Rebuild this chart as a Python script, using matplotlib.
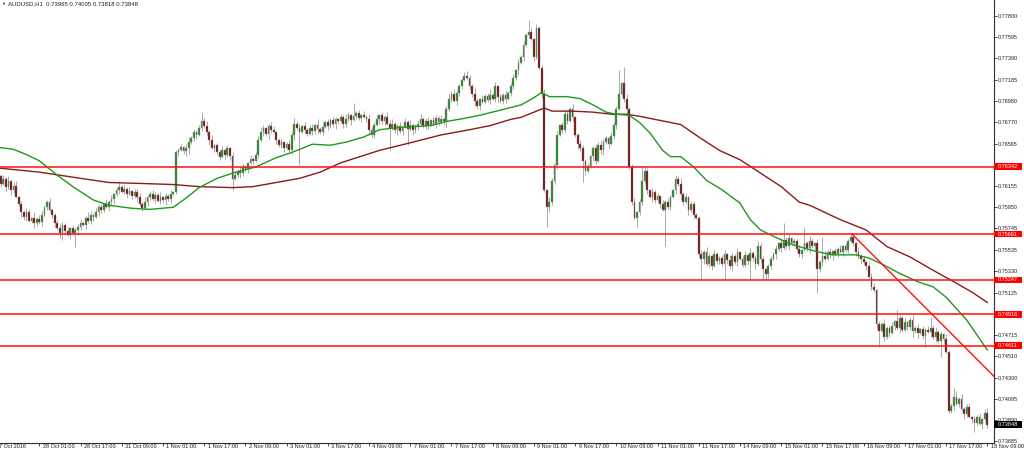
import numpy as np
import matplotlib
matplotlib.use("Agg")
import matplotlib.pyplot as plt
from matplotlib import transforms
from matplotlib.patches import Rectangle

plt.rcParams['font.family'] = ['Liberation Sans', 'DejaVu Sans']

# AUDUSD H1, 27 Oct 2016 09:00 .. 18 Nov 2016 09:00
header = "AUDUSD,H1  0.73965 0.74005 0.73818 0.73848"

# hourly closes in pips (price * 10000), one row = 10 bars
first_open_pips = 7628
close_pips = [
    7625, 7618, 7622, 7615, 7620, 7612, 7616, 7605, 7598, 7590,   # 0
    7586, 7590, 7582, 7585, 7580, 7584, 7581, 7588, 7595, 7600,
    7592, 7588, 7580, 7575, 7570, 7578, 7572, 7568, 7575, 7570,
    7573, 7576, 7580, 7578, 7585, 7582, 7588, 7586, 7590, 7595,
    7592, 7598, 7595, 7600, 7603, 7608, 7612, 7615, 7610, 7613,
    7608, 7611, 7606, 7610, 7605, 7598, 7594, 7600, 7605, 7608,   # 50
    7603, 7607, 7601, 7605, 7602, 7606, 7603, 7608, 7610, 7648,
    7650, 7653, 7649, 7652, 7658, 7662, 7668, 7665, 7672, 7678,
    7674, 7668, 7660, 7652, 7655, 7648, 7644, 7650, 7646, 7652,
    7645, 7622, 7626, 7630, 7628, 7634, 7632, 7638, 7642, 7640,
    7646, 7660, 7668, 7672, 7666, 7674, 7670, 7668, 7660, 7655,   # 100
    7658, 7652, 7656, 7650, 7665, 7676, 7672, 7668, 7674, 7670,
    7666, 7672, 7669, 7675, 7671, 7668, 7673, 7677, 7674, 7679,
    7676, 7680, 7678, 7682, 7676, 7680, 7684, 7679, 7683, 7686,
    7681, 7684, 7682, 7680, 7670, 7665, 7675, 7680, 7684, 7678,
    7682, 7676, 7672, 7676, 7670, 7674, 7669, 7673, 7677, 7671,   # 150
    7675, 7670, 7674, 7676, 7680, 7674, 7678, 7675, 7679, 7676,
    7681, 7677, 7680, 7678, 7690, 7700, 7705, 7698, 7706, 7712,
    7718, 7722, 7720, 7712, 7705, 7698, 7693, 7700, 7697, 7703,
    7699, 7704, 7700, 7712, 7702, 7698, 7704, 7700, 7706, 7712,
    7720, 7728, 7735, 7740, 7752, 7762, 7765, 7758, 7740, 7768,   # 200
    7730, 7705, 7612, 7595, 7600, 7620, 7636, 7665, 7675, 7670,
    7685, 7678, 7690, 7682, 7665, 7656, 7652, 7640, 7630, 7635,
    7645, 7652, 7640, 7655, 7650, 7658, 7662, 7656, 7664, 7675,
    7690, 7705, 7715, 7700, 7690, 7634, 7600, 7585, 7590, 7600,
    7620, 7630, 7612, 7605, 7610, 7602, 7606, 7598, 7592, 7600,   # 250
    7595, 7605, 7612, 7622, 7618, 7608, 7600, 7605, 7592, 7598,
    7588, 7585, 7550, 7545, 7552, 7540, 7548, 7538, 7550, 7543,
    7546, 7540, 7550, 7544, 7538, 7548, 7542, 7552, 7545, 7539,
    7549, 7543, 7551, 7546, 7540, 7558, 7545, 7535, 7530, 7538,
    7545, 7550, 7555, 7560, 7556, 7563, 7558, 7565, 7560, 7562,   # 300
    7555, 7550, 7554, 7560, 7556, 7562, 7558, 7560, 7535, 7542,
    7548, 7545, 7552, 7549, 7553, 7550, 7555, 7552, 7558, 7554,
    7562, 7566, 7560, 7552, 7548, 7545, 7542, 7538, 7528, 7518,
    7515, 7482, 7475, 7482, 7470, 7478, 7473, 7480, 7485, 7478,
    7488, 7476, 7484, 7479, 7486, 7475, 7478, 7473, 7477, 7471,   # 350
    7476, 7474, 7478, 7470, 7474, 7466, 7472, 7468, 7455, 7398,
    7403, 7412, 7405, 7410, 7400, 7395, 7402, 7392, 7390, 7386,
    7392, 7385, 7390, 7396.5, 7384.8,
]

# usual wick lengths in pips (one digit per bar)
wick_up = ("3242513423" "2431524312" "4213532413" "2341253142" "3152413524"
           "2413342513" "4325132412" "2314523134" "3425123413" "1342532142"
           "2453123412" "3124352413" "2341524132" "4213253142" "3142532413"
           "2534123142" "4123523413" "3241352412" "2413253142" "3524132413"
           "4132425314" "2341532412" "3425124313" "1243532142" "3412523413"
           "2531423142" "4213352413" "3124253142" "2341532413" "4152342312"
           "3241523413" "2413253142" "3524132412" "2341523143" "4132523412"
           "3241352413" "2413523142" "3152423413" "24135")
wick_dn = ("2314253124" "3412532413" "1342523142" "2531423413" "3214352412"
           "4132523143" "2413352412" "3124523413" "2351423142" "4213532413"
           "1324253142" "3412352413" "2143523142" "3521432413" "2413523142"
           "3142352413" "2534123412" "4213523143" "3124352412" "2413523413"
           "3251423142" "1423532413" "3214253142" "2531342413" "4123523142"
           "3241532413" "2314253142" "4132523413" "3214352412" "2413523143"
           "3152423412" "2341352413" "4213523142" "3124352413" "2531423142"
           "4213352413" "3142523412" "2413253143" "31425")

# long wicks (pips)
spike_high = {79: 7687, 138: 7696, 182: 7727, 206: 7776, 241: 7728, 243: 7731,
              250: 7634, 251: 7634, 305: 7580, 313: 7576, 320: 7566, 331: 7570,
              349: 7496, 362: 7489, 371: 7420, 384: 7400.5}
spike_low = {25: 7563, 30: 7557, 91: 7612, 117: 7636, 152: 7650, 159: 7655,
             213: 7576, 227: 7619, 248: 7576, 259: 7558, 273: 7525, 282: 7525,
             292: 7525, 297: 7525, 318: 7512, 342: 7460, 360: 7460, 366: 7450,
             379: 7378, 384: 7381.8}

# moving averages (bar index, pips)
fast_idx = [0, 6, 11, 16, 23, 29, 37, 43, 52, 59, 68, 73, 78, 85, 91, 100, 108, 114,
            122, 129, 135, 142, 148, 155, 168, 174, 181, 187, 195, 203, 208, 211, 214,
            221, 226, 231, 236, 240, 245, 249, 253, 258, 261, 265, 270, 275, 281, 288,
            292, 296, 301, 307, 315, 318, 324, 333, 338, 344, 350, 357, 363, 368, 376, 384]
fast_pips = [7653, 7651, 7646, 7640, 7626, 7615, 7602, 7597, 7594, 7593, 7595, 7604, 7614,
             7623, 7628, 7634, 7643, 7648, 7656, 7655, 7658, 7663, 7670, 7672, 7674, 7678,
             7681, 7684, 7689, 7694, 7701, 7706, 7702, 7702, 7700, 7694, 7687, 7685, 7684,
             7677, 7667, 7650, 7644, 7644, 7634, 7621, 7612, 7599, 7583, 7573, 7567, 7560,
             7554, 7552, 7549, 7549, 7546, 7539, 7531, 7523, 7518, 7508, 7486, 7457]
slow_idx = [0, 8, 16, 24, 32, 43, 56, 68, 78, 91, 99, 108, 117, 125, 133, 148, 161, 172,
            183, 191, 199, 203, 208, 212, 215, 223, 231, 238, 244, 249, 253, 265, 272, 280,
            288, 296, 304, 311, 315, 327, 337, 345, 354, 363, 371, 378, 384]
slow_pips = [7633, 7631, 7629, 7626, 7623, 7619, 7618, 7617, 7615, 7614, 7615, 7619, 7623,
             7629, 7638, 7650, 7658, 7665, 7670, 7674, 7680, 7682, 7687, 7691, 7688, 7688,
             7687, 7685, 7685, 7683, 7681, 7675, 7663, 7650, 7641, 7628, 7615, 7600, 7597,
             7583, 7573, 7557, 7547, 7534, 7523, 7513, 7503]

levels = [0.76342, 0.75691, 0.75247, 0.74916, 0.74611]
trend_idx = [331.5, 384]
trend_val = [0.75691, 0.74380]
last_price = 0.73848

ytick_vals = [0.77800, 0.77595, 0.77390, 0.77185, 0.76980, 0.76770, 0.76565, 0.76155,
              0.75950, 0.75745, 0.75535, 0.75330, 0.75125, 0.74715, 0.74510, 0.74300,
              0.74095, 0.73890, 0.73685]
xtick_labels = ["27 Oct 2016", "28 Oct 01:00", "28 Oct 17:00", "31 Oct 09:00", "1 Nov 01:00",
                "1 Nov 17:00", "2 Nov 09:00", "3 Nov 01:00", "3 Nov 17:00", "4 Nov 09:00",
                "7 Nov 01:00", "7 Nov 17:00", "8 Nov 09:00", "9 Nov 01:00", "9 Nov 17:00",
                "10 Nov 09:00", "11 Nov 01:00", "11 Nov 17:00", "14 Nov 09:00", "15 Nov 01:00",
                "15 Nov 17:00", "16 Nov 09:00", "17 Nov 01:00", "17 Nov 17:00", "18 Nov 09:00"]

# ---- build OHLC
n = len(close_pips)
idx = np.arange(n)
c = np.array(close_pips, dtype=float) / 1e4
o = np.r_[first_open_pips / 1e4, c[:-1]]
up = np.array([int(d) for d in wick_up], dtype=float)[:n] / 1e4
dn = np.array([int(d) for d in wick_dn], dtype=float)[:n] / 1e4
hi = np.maximum(o, c) + up
lo = np.minimum(o, c) - dn
for i, v in spike_high.items():
    hi[i] = max(v / 1e4, o[i], c[i])
for i, v in spike_low.items():
    lo[i] = min(v / 1e4, o[i], c[i])

W, H = 1024, 455
fs = 4.0
fig = plt.figure(figsize=(W / 100, H / 100), dpi=100)
ax = fig.add_axes([0, 12 / H, 994 / W, 443 / H])
ax.set_xlim(0.74, 386.6)
ax.set_ylim(0.736704, 0.779547)

bull = c >= o
body_col = np.where(bull, '#238a23', '#760808')
ax.vlines(idx, lo, hi, color='#a4a4a4', lw=0.65, zorder=2)
ax.bar(idx, np.maximum(np.abs(c - o), 0.00003), bottom=np.minimum(o, c), width=0.68,
       color=body_col, edgecolor='#8c8c8c', linewidth=0.3, zorder=3)

ax.plot(slow_idx, np.array(slow_pips) / 1e4, color='#8c1a1a', lw=1.0, zorder=4)
ax.plot(fast_idx, np.array(fast_pips) / 1e4, color='#1e9a1e', lw=1.0, zorder=4)

for lv in levels:
    ax.axhline(lv, color='#ff1010', lw=1.1, zorder=5)

slope = (trend_val[1] - trend_val[0]) / (trend_idx[1] - trend_idx[0])
xr = ax.get_xlim()[1]
ax.plot([trend_idx[0], xr], [trend_val[0], trend_val[0] + slope * (xr - trend_idx[0])],
        color='#ff1010', lw=1.0, zorder=5)

# frame
for s in ['left', 'top']:
    ax.spines[s].set_visible(False)
for s in ['right', 'bottom']:
    ax.spines[s].set_color('#303030')
    ax.spines[s].set_linewidth(0.8)

ax.yaxis.tick_right()
ax.set_yticks(ytick_vals)
ax.set_yticklabels([f"{v:.5f}" for v in ytick_vals])
ax.tick_params(axis='y', direction='out', length=1.8, width=0.6, pad=1.0,
               labelsize=fs, colors='#303030', labelcolor='#202020')

xt = [k * 16 for k in range(len(xtick_labels))]
ax.set_xticks([t for t in xt if t >= 0.74])
ax.tick_params(axis='x', direction='out', length=1.8, width=0.6, colors='#303030',
               labelbottom=False)
blend_x = transforms.blended_transform_factory(ax.transData, ax.transAxes)
for k, lab in enumerate(xtick_labels):
    dx = 3.4 if k > 0 else -1.6
    tr = blend_x + transforms.ScaledTranslation(dx / 100, -1.0 / 100, fig.dpi_scale_trans)
    ax.text(xt[k], 0, lab, transform=tr, ha='left', va='top', fontsize=fs,
            color='#202020', clip_on=False)

# price boxes on the right scale
blend_y = transforms.blended_transform_factory(ax.transAxes, ax.transData)
half_h = 3.4 / 10340
box_w = 28 / 994
for lv, bg in [(v, '#ff0000') for v in levels] + [(last_price, '#000000')]:
    ax.add_patch(Rectangle((1.0, lv - half_h), box_w, 2 * half_h, transform=blend_y,
                           facecolor=bg, edgecolor='none', clip_on=False, zorder=6))
    ax.text(1.0 + 3.5 / 994, lv, f"{lv:.5f}", transform=blend_y, ha='left', va='center',
            fontsize=fs, color='white', clip_on=False, zorder=7)

fig.text(1 / W, 1 - 4 / H, "\u25bc", fontsize=3, va='center', ha='left', color='#303030')
fig.text(8 / W, 1 - 4 / H, header, fontsize=4.3, va='center', ha='left', color='#202020')

fig.savefig("out.png", dpi=100)
